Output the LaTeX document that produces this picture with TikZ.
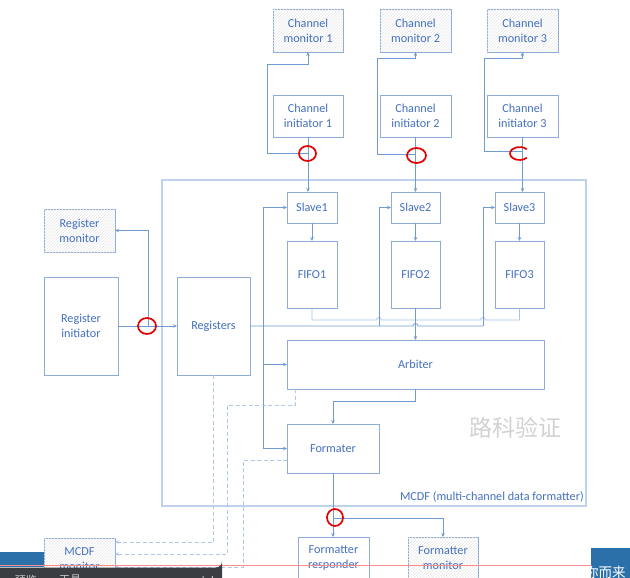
\documentclass[tikz,border=0pt]{standalone}
\usepackage{fontspec}
\setmainfont{Carlito}
\newfontfamily\cjk{Noto Sans CJK SC}
\usetikzlibrary{patterns,arrows.meta,calc}
\definecolor{bx}{HTML}{8FABD8}
\definecolor{tx}{HTML}{4470C0}
\definecolor{lnc}{HTML}{6F9BD2}
\definecolor{uiblue}{HTML}{2C70AA}
\definecolor{uidark}{HTML}{3A3D42}
\tikzset{
  box/.style={draw=bx, line width=0.9pt, fill=white, inner sep=0pt, outer sep=0pt,
    align=center, text=tx, font=\fontsize{12.2}{15}\selectfont},
  mon/.style={box, postaction={pattern=north east lines, pattern color=gray!18}},
  lnk/.style={draw=lnc, line width=0.8pt},
  arr/.style={-{Stealth[length=4pt,width=3.5pt]}},
  dsh/.style={draw=lnc!55, line width=0.9pt, dash pattern=on 4pt off 2.5pt},
  redmark/.style={draw=red!90!black, line width=1.7pt},
}
\begin{document}
\begin{tikzpicture}[x=1pt,y=-1pt]
\useasboundingbox (0,0) rectangle (630,578);
\fill[white] (0,0) rectangle (630,578);

% MCDF outer box
\draw[draw=lnc!45, line width=1.3pt] (162,180) rectangle (586,506);
\node[anchor=south east, inner sep=0pt, text=tx, font=\fontsize{12.2}{14}\selectfont] (lbl) at (584,502) {MCDF (multi-channel data formatter)};
\node[text=gray!35, font=\cjk\fontsize{23}{23}\selectfont] (wm) at (515,428) {路科验证};

% channel monitors and initiators
\node[mon, minimum width=70, minimum height=43] (cm1) at (308,30.5) {Channel\\monitor 1};
\node[mon, minimum width=71, minimum height=43] (cm2) at (415.5,30.5) {Channel\\monitor 2};
\node[mon, minimum width=71, minimum height=43] (cm3) at (522.5,30.5) {Channel\\monitor 3};
\node[box, minimum width=70, minimum height=42] (ci1) at (308,116) {Channel\\initiator 1};
\node[box, minimum width=71, minimum height=42] (ci2) at (415.5,116) {Channel\\initiator 2};
\node[box, minimum width=71, minimum height=42] (ci3) at (522.5,116) {Channel\\initiator 3};

% slaves and fifos
\node[box, minimum width=50, minimum height=31] (sl1) at (312,207.5) {Slave1};
\node[box, minimum width=49, minimum height=31] (sl2) at (415.5,207.5) {Slave2};
\node[box, minimum width=49, minimum height=31] (sl3) at (519.5,207.5) {Slave3};
\node[box, minimum width=50, minimum height=67] (ff1) at (312,274.5) {FIFO1};
\node[box, minimum width=49, minimum height=67] (ff2) at (415.5,274.5) {FIFO2};
\node[box, minimum width=49, minimum height=67] (ff3) at (519.5,274.5) {FIFO3};

\node[box, minimum width=257, minimum height=49] (arb) at (415.5,364.5) {Arbiter};
\node[box, minimum width=92, minimum height=49] (fmt) at (333,448.5) {Formater};

% registers
\node[box, minimum width=73, minimum height=98] (reg) at (213.5,326) {Registers};
\node[box, minimum width=74, minimum height=98] (ri) at (81,326) {Register\\initiator};
\node[mon, minimum width=71, minimum height=43] (rm) at (79.5,230.5) {Register\\monitor};

% bottom boxes
\node[mon, minimum width=71, minimum height=42] (mm) at (79.5,559) {MCDF\\monitor};
\node[box, minimum width=71, minimum height=42] (fr) at (333.5,558) {Formatter\\responder};
\node[mon, minimum width=70, minimum height=42] (fm) at (443,558) {Formatter\\monitor};

% channel connections
\coordinate (t1) at (308,153);
\coordinate (t2) at (415.5,154);
\coordinate (t3) at (522.5,151);
\draw[lnk,arr] (ci1.south) -- (ci1.south |- sl1.north);
\draw[lnk,arr] (ci2.south) -- (ci2.south |- sl2.north);
\draw[lnk,arr] (ci3.south) -- (ci3.south |- sl3.north);
\draw[lnk,arr] (t1) -- (267,153) -- (267,64) -| (cm1.south);
\draw[lnk,arr] (t2) -- (377,154) -- (377,58) -| (cm2.south);
\draw[lnk,arr] (t3) -- (484,151) -- (484,58) -| (cm3.south);
\draw[lnk,arr] (sl1) -- (ff1);
\draw[lnk,arr] (sl2) -- (ff2);
\draw[lnk,arr] (sl3) -- (ff3);

% fifo collector (hops over verticals)
\draw[lnk, draw=lnc!60] (ff1.south) -- (312,320) -- (376.5,320)
  arc[start angle=180, end angle=360, radius=2.5] -- (480.5,320)
  arc[start angle=180, end angle=360, radius=2.5] -- (519.5,320) -- (ff3.south);
\draw[lnk,arr] (ff2.south) -- (arb.north);

% register bus
\coordinate (j1) at (263,326);
\coordinate (j2) at (379,326);
\coordinate (j3) at (483,326);
\draw[lnk] (reg.east) -- (413,326) arc[start angle=180, end angle=360, radius=2.5] -- (j3);
\draw[lnk,arr] (j1) |- (sl1.west);
\draw[lnk,arr] (j1) |- (arb.west);
\draw[lnk,arr] (j1) |- (fmt.west);
\draw[lnk,arr] (j2) |- (sl2.west);
\draw[lnk,arr] (j3) |- (sl3.west);

% register initiator
\coordinate (rb) at (148,326);
\draw[lnk,arr] (ri) -- (reg);
\draw[lnk,arr] (rb) |- (rm.east);

% arbiter -> formater -> outputs
\draw[lnk,arr] (arb.south) -- ++(0,12) -| (fmt.north);
\coordinate (fb) at (333,518);
\draw[lnk,arr] (fmt.south) -- (fmt.south |- fr.north);
\draw[lnk,arr] (fb) -| (fm.north);

% dashed monitor links
\draw[dsh,arr] (reg.south) |- (mm.east |- 0,542);
\draw[dsh,arr] ($(arb.south west)+(8,0)$) -- (295,405) -- (227,405) |- (mm.east |- 0,554);
\draw[dsh,arr] (fmt.west |- 0,460) -- (243,460) |- (mm.east |- 0,567);

% red hand-drawn marks
\draw[redmark] (307.5,153.5) ellipse [x radius=8.5, y radius=7.5];
\draw[redmark] (416.5,155.5) ellipse [x radius=9.5, y radius=7.5];
\draw[redmark] (519.5,153.5) ++(40:9.5 and 6.5) arc[start angle=40, end angle=320, x radius=9.5, y radius=6.5];
\draw[redmark] (147,326) ellipse [x radius=9, y radius=8];
\draw[redmark] (335,517.5) ellipse [x radius=8, y radius=8.5];

% screen overlay elements
\fill[uiblue] (0,552) rectangle (44,567);
\draw[red!45, line width=0.5pt] (0,565) -- (591,565);
\fill[uidark] (0,567.5) -- (216,567.5) arc[start angle=90, end angle=0, radius=6] -- (222,578) -- (0,578) -- cycle;
\node[text=gray!45, font=\cjk\fontsize{11}{11}\selectfont] (ui1) at (26,580) {预览};
\node[text=gray!45, font=\cjk\fontsize{11}{11}\selectfont] (ui2) at (70,580) {工具};
\draw[gray!45, line width=1pt] (203,576) arc[start angle=200, end angle=-20, radius=5];
\fill[uiblue] (591,548) rectangle (630,578);
\begin{scope}
\clip (591,548) rectangle (630,578);
\node[text=white, anchor=west, inner sep=0pt, font=\cjk\fontsize{13.5}{13.5}\selectfont] (ui3) at (585,572) {你而来};
\end{scope}
\end{tikzpicture}
\end{document}
